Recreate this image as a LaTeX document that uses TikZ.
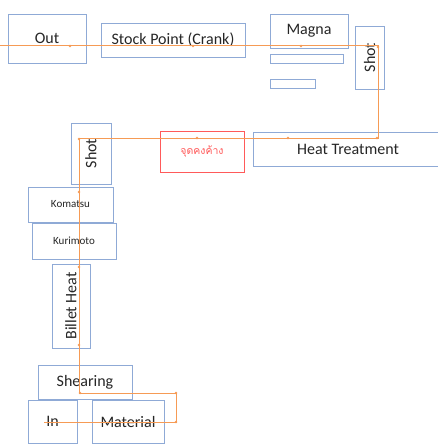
\documentclass[tikz,border=0pt]{standalone}
\usepackage{fontspec}
\setmainfont{Carlito}
\newfontfamily\thaifont[Script=Thai]{Loma}
\definecolor{boxblue}{RGB}{143,170,214}
\definecolor{flow}{RGB}{246,155,85}
\definecolor{thaired}{RGB}{255,90,90}
\definecolor{txt}{RGB}{38,38,38}
\begin{document}
\begin{tikzpicture}[x=1pt,y=-1pt,
  box/.style={draw=boxblue,line width=0.9pt,inner sep=0pt,text=txt,font=\fontsize{16}{18}\selectfont},
  smallbox/.style={box,font=\fontsize{11}{12}\selectfont},
  flowline/.style={draw=flow,line width=1pt},
  fdot/.style={circle,fill=flow,inner sep=0pt,minimum size=2.6pt}]
\clip (0,0) rectangle (438,444);
\fill[white] (0,0) rectangle (438,444);
% boxes
\node[box,minimum width=78,minimum height=49] (out) at (47,38.5) {Out};
\node[box,minimum width=144,minimum height=34] (stock) at (173,40) {Stock Point (Crank)};
\node[box,minimum width=78,minimum height=34] (magna) at (309,31) {Magna};
\node[box,minimum width=73,minimum height=9] (r1) at (306.5,58.5) {};
\node[box,minimum width=45,minimum height=9] (r2) at (292.5,83.5) {};
\node[box,minimum width=29,minimum height=63] (shotr) at (369.5,57.5) {\rotatebox{90}{Shot}};
\node[box,minimum width=190,minimum height=34] (heat) at (348,149) {Heat Treatment};
\node[box,draw=thaired,text=thaired,minimum width=84,minimum height=41,font=\thaifont\fontsize{10.5}{12}\selectfont] (thai) at (202,151.5) {จุดคงค้าง};
\node[box,minimum width=40,minimum height=61] (shotl) at (91,153.5) {\rotatebox{90}{Shot}};
\node[smallbox,minimum width=85,minimum height=35] (komatsu) at (70.5,204.5) {Komatsu};
\node[smallbox,minimum width=84,minimum height=36] (kurimoto) at (74,241) {Kurimoto};
\node[box,minimum width=38,minimum height=84] (billet) at (71,306) {\rotatebox{90}{Billet Heat}};
\node[box,minimum width=94,minimum height=34] (shearing) at (85,382) {Shearing};
\node[box,minimum width=49,minimum height=43] (in) at (52.5,421.5) {In};
\node[box,minimum width=72,minimum height=43] (material) at (128,421.5) {Material};
% flow line
\coordinate (s) at (0,46);
\coordinate (c1) at (378,46);
\coordinate (c2) at (378,138);
\coordinate (c3) at (79,138);
\coordinate (c4) at (79,393);
\coordinate (c5) at (176,393);
\coordinate (c6) at (176,422);
\coordinate (e) at (44,422);
\draw[flowline] (s) -- (c1) -- (c2) -- (c3) -- (c4) -- (c5) -- (c6) -- (e);
\foreach \p in {(70,46),(193,46),(301,46),(378,47),(377,138),(288,138),(197,138),(79,139),(79,192),(79,267),(79,345),(80,393),(176,393),(176,422)}
  \node[fdot] at \p {};
\end{tikzpicture}
\end{document}
